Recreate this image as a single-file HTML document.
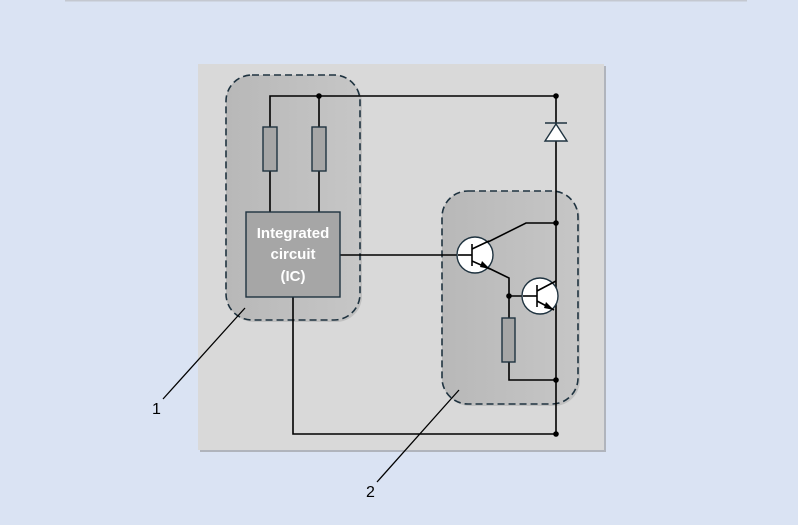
<!DOCTYPE html>
<html><head><style>
html,body{margin:0;padding:0;background:#dae3f3;width:798px;height:525px;overflow:hidden}
</style></head><body>
<svg width="798" height="525" viewBox="0 0 798 525" xmlns="http://www.w3.org/2000/svg" font-family="Liberation Sans, sans-serif">
<defs>
<linearGradient id="g" x1="0" y1="0" x2="1" y2="0"><stop offset="0" stop-color="#b8b8b8"/><stop offset="1" stop-color="#c6c6c6"/></linearGradient>
</defs>
<rect x="0" y="0" width="798" height="525" fill="#dae3f3"/>
<rect x="65" y="0" width="682" height="1.5" fill="#c4c8d0"/>
<rect x="200" y="66" width="406" height="386" fill="#b0b4bc"/>
<rect x="198" y="64" width="406" height="386" fill="#d9d9d9"/>
<rect x="228" y="77" width="134" height="245" rx="26" fill="#a8a8a8" opacity="0.5"/>
<rect x="444" y="193" width="136" height="213" rx="26" fill="#a8a8a8" opacity="0.5"/>
<rect x="226" y="75" width="134" height="245" rx="26" fill="url(#g)" stroke="#1f3340" stroke-width="1.6" stroke-dasharray="7,4"/>
<rect x="442" y="191" width="136" height="213" rx="26" fill="url(#g)" stroke="#1f3340" stroke-width="1.6" stroke-dasharray="7,4"/>
<g stroke="#000" stroke-width="1.6" fill="none">
<polyline points="270,212 270,96 556,96 556,434 293,434 293,297"/>
<line x1="319" y1="96" x2="319" y2="212"/>
<line x1="340" y1="255" x2="458" y2="255"/>
<polyline points="474,249 526,223 556,223"/>
<polyline points="474,261 509,278 509,380 556,380"/>
<line x1="509" y1="296" x2="537" y2="296"/>
</g>
<rect x="263" y="127" width="14" height="44" fill="#a6a6a6" stroke="#1f3340" stroke-width="1.4"/>
<rect x="312" y="127" width="14" height="44" fill="#a6a6a6" stroke="#1f3340" stroke-width="1.4"/>
<rect x="502" y="318" width="13" height="44" fill="#a6a6a6" stroke="#1f3340" stroke-width="1.4"/>
<polygon points="556,124 545,141 567,141" fill="#fff" stroke="#1f3340" stroke-width="1.4"/>
<line x1="545" y1="123" x2="567" y2="123" stroke="#1f3340" stroke-width="1.6"/>
<rect x="246" y="212" width="94" height="85" fill="#a6a6a6" stroke="#1f3340" stroke-width="1.4"/>
<g fill="#fff" font-size="15" font-weight="bold" text-anchor="middle">
<text x="293" y="238">Integrated</text>
<text x="293" y="259">circuit</text>
<text x="293" y="281">(IC)</text>
</g>
<circle cx="475" cy="255" r="18" fill="#fff" stroke="#1f3340" stroke-width="1.4"/>
<circle cx="540" cy="296" r="18" fill="#fff" stroke="#1f3340" stroke-width="1.4"/>
<g stroke="#000" stroke-width="1.6">
<line x1="458" y1="255" x2="472" y2="255"/>
<line x1="472" y1="244" x2="472" y2="266"/>
<line x1="472" y1="249" x2="489" y2="241"/>
<line x1="472" y1="261" x2="490" y2="269"/>
<line x1="523" y1="296" x2="537" y2="296"/>
<line x1="537" y1="285" x2="537" y2="307"/>
<line x1="537" y1="291" x2="556" y2="281"/>
<line x1="537" y1="301" x2="554" y2="310"/>
</g>
<polygon points="490,269 482,261 480,267" fill="#000"/>
<polygon points="554,310 546,302 544,308" fill="#000"/>
<g fill="#000">
<circle cx="319" cy="96" r="2.8"/><circle cx="556" cy="96" r="2.8"/>
<circle cx="556" cy="223" r="2.8"/><circle cx="509" cy="296" r="2.8"/>
<circle cx="556" cy="380" r="2.8"/><circle cx="556" cy="434" r="2.8"/>
</g>
<g stroke="#000" stroke-width="1.3">
<line x1="163" y1="399" x2="245" y2="308"/>
<line x1="377" y1="482" x2="459" y2="390"/>
</g>
<g font-size="16" fill="#000">
<text x="152" y="414">1</text>
<text x="366" y="497">2</text>
</g>
</svg>
</body></html>
